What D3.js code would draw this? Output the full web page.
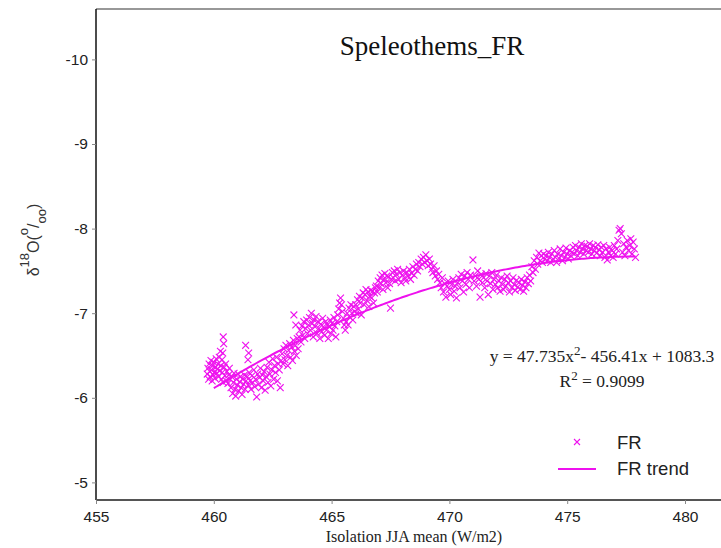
<!DOCTYPE html>
<html><head><meta charset="utf-8">
<script src="https://cdn.jsdelivr.net/npm/d3@7"></script>
<style>body{margin:0;background:#fff}svg{display:block}</style>
</head><body>
<svg id="chart" width="721" height="548"></svg>
<script>
// ---- data ----
const xTicks = [455, 460, 465, 470, 475, 480];
const yTicks = [-10, -9, -8, -7, -6, -5];
const trendCoef = [47.735, -456.41, 1083.3]; // y = a*(x/100)^2 + b*(x/100) + c
const trendRange = [460.0, 477.9];
const frX = [
459.72,459.75,459.78,459.80,459.83,459.85,459.88,459.90,459.93,459.95,459.98,460.00,460.03,460.05,460.08,460.10,460.13,460.15,460.18,460.20,460.23,460.25,460.28,460.30,
460.40,460.42,460.38,460.35,
460.33,460.36,460.40,460.44,460.47,460.50,460.53,460.56,460.60,460.63,460.66,460.70,
460.73,460.76,460.80,460.83,460.86,460.90,460.93,460.96,461.00,461.03,461.06,461.10,461.13,461.16,461.20,461.23,461.27,461.30,461.33,461.37,
461.35,461.48,461.45,
461.42,461.46,461.50,461.54,461.58,461.62,461.66,461.70,461.74,461.78,461.82,461.86,461.90,461.94,461.98,462.02,462.06,462.10,462.14,462.18,
462.22,462.26,462.30,462.34,462.38,462.42,462.46,462.50,462.54,462.58,462.62,462.66,462.70,462.74,462.78,462.82,462.86,
462.90,462.94,462.98,463.02,463.06,463.10,463.14,463.18,463.22,463.26,463.30,463.34,463.38,463.42,463.46,463.50,463.54,463.58,
463.40,463.48,
463.62,463.66,463.70,463.74,463.78,463.82,463.86,463.90,463.94,463.98,
464.02,464.06,464.10,464.14,464.18,464.22,464.26,464.30,464.34,464.38,464.42,464.46,464.50,464.54,464.58,464.62,464.66,464.70,464.74,464.78,464.82,464.86,
464.90,464.94,464.98,465.02,465.06,465.10,465.14,465.18,465.22,465.26,465.30,465.34,465.38,465.42,465.46,465.50,465.54,465.58,
465.62,465.66,465.70,465.74,465.78,465.82,465.86,465.90,465.94,465.98,
466.02,466.06,466.10,466.14,466.18,466.22,466.26,466.30,466.34,466.38,466.42,466.46,466.50,466.54,466.58,466.62,466.66,466.70,466.74,466.78,466.82,466.86,
466.90,466.94,466.98,467.02,467.06,467.10,467.14,467.18,467.22,467.26,467.30,467.34,467.38,467.42,467.46,467.50,467.54,467.58,
467.62,467.66,467.70,467.75,467.80,467.85,467.90,467.95,468.00,468.05,468.10,468.15,468.20,468.25,468.30,468.35,468.40,468.45,468.50,468.55,468.60,468.65,
468.70,468.75,468.80,468.85,468.90,468.95,469.00,469.05,469.10,469.15,469.20,469.25,
469.30,469.35,469.40,469.45,469.50,469.55,
469.60,469.65,469.70,469.75,469.80,469.85,469.90,469.95,470.00,470.05,470.10,470.15,470.20,470.25,470.30,
470.35,470.40,470.45,470.50,470.55,470.60,470.65,470.70,470.75,470.80,470.85,470.90,471.00,471.05,471.10,471.15,471.20,471.25,471.30,471.35,471.40,471.45,471.50,471.55,471.60,471.65,471.70,471.75,471.80,471.85,471.90,471.95,472.00,
472.05,472.10,472.15,472.20,472.25,472.30,472.35,472.40,472.45,472.50,472.55,472.60,472.65,472.70,472.75,472.80,472.85,472.90,472.95,473.00,473.05,473.10,473.15,473.20,473.25,473.30,473.35,
473.40,473.45,473.50,473.55,473.60,473.65,473.70,473.75,473.80,473.85,473.90,473.95,474.00,474.05,
474.10,474.15,474.20,474.25,474.30,474.35,474.40,474.45,474.50,474.55,474.60,474.65,474.70,474.75,474.80,474.85,474.90,474.95,475.00,475.05,475.10,475.15,
475.20,475.25,475.30,475.35,475.40,475.45,475.50,475.55,475.60,475.65,475.70,475.75,475.80,475.85,475.90,475.95,476.00,476.05,476.10,476.15,476.20,476.25,476.30,476.35,476.40,476.45,476.50,476.55,476.60,476.65,476.70,476.75,476.80,476.85,
476.90,476.95,477.00,477.05,477.10,477.15,477.20,477.25,477.30,477.35,477.40,477.45,477.50,477.55,477.60,477.65,477.70,477.75,477.80,477.85,477.90
];
const frY = [
-6.28,-6.35,-6.22,-6.40,-6.31,-6.25,-6.44,-6.33,-6.20,-6.38,-6.27,-6.42,-6.30,-6.23,-6.36,-6.46,-6.29,-6.34,-6.40,-6.25,-6.48,-6.32,-6.55,-6.38,
-6.72,-6.64,-6.53,-6.45,
-6.22,-6.30,-6.18,-6.36,-6.26,-6.40,-6.20,-6.31,-6.17,-6.27,-6.35,-6.22,
-6.12,-6.25,-6.05,-6.18,-6.29,-6.10,-6.02,-6.22,-6.15,-6.28,-6.08,-6.19,-6.25,-6.12,-6.04,-6.22,-6.16,-6.27,-6.10,-6.20,
-6.62,-6.53,-6.45,
-6.25,-6.15,-6.30,-6.20,-6.10,-6.26,-6.18,-6.33,-6.13,-6.22,-6.01,-6.28,-6.16,-6.24,-6.35,-6.12,-6.27,-6.20,-6.31,-6.09,
-6.25,-6.36,-6.18,-6.42,-6.28,-6.14,-6.33,-6.46,-6.22,-6.38,-6.30,-6.48,-6.20,-6.40,-6.33,-6.12,-6.44,
-6.52,-6.40,-6.58,-6.45,-6.62,-6.50,-6.38,-6.56,-6.64,-6.48,-6.60,-6.44,-6.68,-6.55,-6.62,-6.50,-6.70,-6.58,
-6.98,-6.86,
-6.72,-6.80,-6.66,-6.85,-6.74,-6.90,-6.70,-6.82,-6.92,-6.76,
-6.86,-6.95,-6.80,-7.00,-6.88,-6.72,-6.92,-6.84,-6.96,-6.76,-6.90,-6.82,-6.70,-6.87,-6.78,-6.94,-6.84,-6.74,-6.90,-6.80,-6.86,-6.70,
-6.84,-6.92,-6.76,-6.88,-6.80,-6.95,-6.85,-6.72,-6.90,-6.98,-7.05,-7.12,-7.18,-7.10,-7.02,-6.94,-6.86,-6.80,
-6.90,-7.00,-6.86,-7.06,-6.95,-7.10,-7.00,-6.92,-7.08,-7.02,
-7.10,-7.00,-7.16,-7.05,-7.20,-7.12,-6.98,-7.18,-7.24,-7.10,-7.22,-7.28,-7.15,-7.25,-7.08,-7.20,-7.27,-7.18,-7.26,-7.12,-7.24,-7.30,
-7.32,-7.25,-7.38,-7.30,-7.42,-7.35,-7.45,-7.28,-7.40,-7.47,-7.36,-7.44,-7.30,-7.43,-7.35,-7.06,-7.40,-7.48,
-7.42,-7.50,-7.38,-7.46,-7.52,-7.40,-7.48,-7.36,-7.45,-7.50,-7.42,-7.38,-7.48,-7.44,-7.52,-7.40,-7.47,-7.55,-7.45,-7.52,-7.58,-7.50,
-7.60,-7.55,-7.64,-7.58,-7.66,-7.60,-7.69,-7.62,-7.56,-7.64,-7.58,-7.52,
-7.48,-7.56,-7.44,-7.50,-7.40,-7.46,
-7.36,-7.30,-7.42,-7.25,-7.35,-7.19,-7.32,-7.38,-7.28,-7.22,-7.34,-7.40,-7.26,-7.32,-7.18,
-7.36,-7.42,-7.30,-7.46,-7.38,-7.25,-7.44,-7.34,-7.48,-7.40,-7.30,-7.45,-7.63,-7.38,-7.44,-7.32,-7.50,-7.40,-7.19,-7.46,-7.36,-7.42,-7.30,-7.47,-7.38,-7.22,-7.44,-7.35,-7.48,-7.28,-7.40,-7.34,-7.45,
-7.30,-7.38,-7.26,-7.42,-7.34,-7.28,-7.40,-7.32,-7.44,-7.36,-7.25,-7.38,-7.30,-7.42,-7.34,-7.27,-7.39,-7.31,-7.36,-7.28,-7.40,-7.33,-7.26,-7.37,-7.30,-7.42,-7.35,
-7.45,-7.38,-7.55,-7.48,-7.62,-7.52,-7.66,-7.58,-7.71,-7.62,-7.68,-7.60,-7.70,-7.64,
-7.68,-7.62,-7.72,-7.66,-7.60,-7.70,-7.64,-7.74,-7.66,-7.60,-7.70,-7.65,-7.76,-7.68,-7.62,-7.72,-7.66,-7.77,-7.70,-7.64,-7.74,-7.68,
-7.72,-7.78,-7.70,-7.80,-7.74,-7.68,-7.78,-7.72,-7.82,-7.76,-7.70,-7.80,-7.74,-7.79,-7.72,-7.82,-7.76,-7.70,-7.80,-7.74,-7.78,-7.71,-7.81,-7.75,-7.68,-7.78,-7.72,-7.80,-7.66,-7.76,-7.63,-7.72,-7.78,-7.68,
-7.74,-7.66,-7.80,-7.70,-7.76,-7.86,-7.98,-8.00,-7.94,-7.72,-7.82,-7.68,-7.78,-7.86,-7.74,-7.80,-7.88,-7.70,-7.84,-7.76,-7.66
];

// ---- layout ----
const W = 721, H = 548;
const plotLeft = 96, plotTop = 9, plotBottom = 500;
const svg = d3.select("#chart");
const x = d3.scaleLinear().domain([455, 480]).range([plotLeft, 685]);
const y = d3.scaleLinear().domain([-10, -5]).range([59.4, 482.4]);
const magenta = "#ee11ee";
const hyphen = d => String(d);

// frame
svg.append("line").attr("x1", plotLeft).attr("x2", W).attr("y1", plotTop).attr("y2", plotTop)
  .attr("stroke", "#333").attr("stroke-width", 1.2);
svg.append("line").attr("x1", plotLeft).attr("x2", plotLeft).attr("y1", plotTop).attr("y2", plotBottom)
  .attr("stroke", "#111").attr("stroke-width", 1.5);
svg.append("line").attr("x1", plotLeft).attr("x2", W).attr("y1", plotBottom).attr("y2", plotBottom)
  .attr("stroke", "#555").attr("stroke-width", 1.8);

// y axis
const yAxis = d3.axisLeft(y).tickValues(yTicks).tickSize(4).tickPadding(4).tickFormat(hyphen);
const gy = svg.append("g").attr("transform", `translate(${plotLeft},0)`).call(yAxis);
gy.select(".domain").remove();
gy.selectAll("line").attr("stroke", "#888");
gy.selectAll("text").attr("font-family", "Liberation Sans, Arial, sans-serif").attr("font-size", 15.5).attr("fill", "#222");

// x axis
const xAxis = d3.axisBottom(x).tickValues(xTicks).tickSize(4).tickPadding(7).tickFormat(hyphen);
const gx = svg.append("g").attr("transform", `translate(0,${plotBottom})`).call(xAxis);
gx.select(".domain").remove();
gx.selectAll("line").attr("stroke", "#888");
gx.selectAll("text").attr("font-family", "Liberation Sans, Arial, sans-serif").attr("font-size", 15.5).attr("fill", "#222");

// axis titles
svg.append("text").attr("x", 414).attr("y", 542).attr("text-anchor", "middle")
  .attr("font-family", "Liberation Serif, Times New Roman, serif").attr("font-size", 16).attr("fill", "#222")
  .text("Isolation JJA mean (W/m2)");

const yl = svg.append("text").attr("transform", "translate(39,240) rotate(-90)").attr("text-anchor", "middle")
  .attr("font-family", "Liberation Sans, Arial, sans-serif").attr("font-size", 16).attr("fill", "#333");
yl.append("tspan").text("δ");
yl.append("tspan").attr("dy", -10).attr("font-size", 13).text("18");
yl.append("tspan").attr("dy", 10).text("O(");
yl.append("tspan").attr("dy", -11).attr("font-size", 13).text("o");
yl.append("tspan").attr("dy", 11).text("/");
yl.append("tspan").attr("dy", 7).attr("font-size", 13).text("oo");
yl.append("tspan").attr("dy", -7).text(")");

// title
svg.append("text").attr("x", 432).attr("y", 55).attr("text-anchor", "middle")
  .attr("font-family", "Liberation Serif, Times New Roman, serif").attr("font-size", 27).attr("fill", "#111")
  .text("Speleothems_FR");

// scatter
const pts = frX.map((v, i) => [v, frY[i]]);
const s = 3.4;
svg.append("g").selectAll("path").data(pts).join("path")
  .attr("d", d => {
    const cx = x(d[0]), cy = y(d[1]);
    return `M${cx - s},${cy - s}L${cx + s},${cy + s}M${cx - s},${cy + s}L${cx + s},${cy - s}`;
  })
  .attr("stroke", magenta).attr("stroke-width", 1.1).attr("fill", "none");

// trend line
const trendX = d3.range(trendRange[0], trendRange[1] + 0.001, 0.1);
const trend = v => { const t = v / 100; return trendCoef[0] * t * t + trendCoef[1] * t + trendCoef[2]; };
svg.append("path").datum(trendX)
  .attr("d", d3.line().x(d => x(d)).y(d => y(trend(d))))
  .attr("stroke", magenta).attr("stroke-width", 2).attr("fill", "none");

// equation
const eq = svg.append("text").attr("x", 602).attr("y", 362).attr("text-anchor", "middle")
  .attr("font-family", "Liberation Serif, Times New Roman, serif").attr("font-size", 17.5).attr("fill", "#222");
eq.append("tspan").text("y = 47.735x");
eq.append("tspan").attr("dy", -7).attr("font-size", 13).text("2");
eq.append("tspan").attr("dy", 7).text("- 456.41x + 1083.3");
const r2 = svg.append("text").attr("x", 602).attr("y", 387).attr("text-anchor", "middle")
  .attr("font-family", "Liberation Serif, Times New Roman, serif").attr("font-size", 17.5).attr("fill", "#222");
r2.append("tspan").text("R");
r2.append("tspan").attr("dy", -7).attr("font-size", 13).text("2");
r2.append("tspan").attr("dy", 7).text(" = 0.9099");

// legend
const lg = svg.append("g");
lg.append("path").attr("d", `M${577 - 3},${442 - 3}L${577 + 3},${442 + 3}M${577 - 3},${442 + 3}L${577 + 3},${442 - 3}`)
  .attr("stroke", magenta).attr("stroke-width", 1.1);
lg.append("line").attr("x1", 558).attr("x2", 596).attr("y1", 469).attr("y2", 469)
  .attr("stroke", magenta).attr("stroke-width", 2);
lg.append("text").attr("x", 617).attr("y", 449).attr("font-family", "Liberation Sans, Arial, sans-serif")
  .attr("font-size", 18.5).attr("fill", "#222").text("FR");
lg.append("text").attr("x", 617).attr("y", 475).attr("font-family", "Liberation Sans, Arial, sans-serif")
  .attr("font-size", 18.5).attr("fill", "#222").text("FR trend");
</script>
</body></html>
